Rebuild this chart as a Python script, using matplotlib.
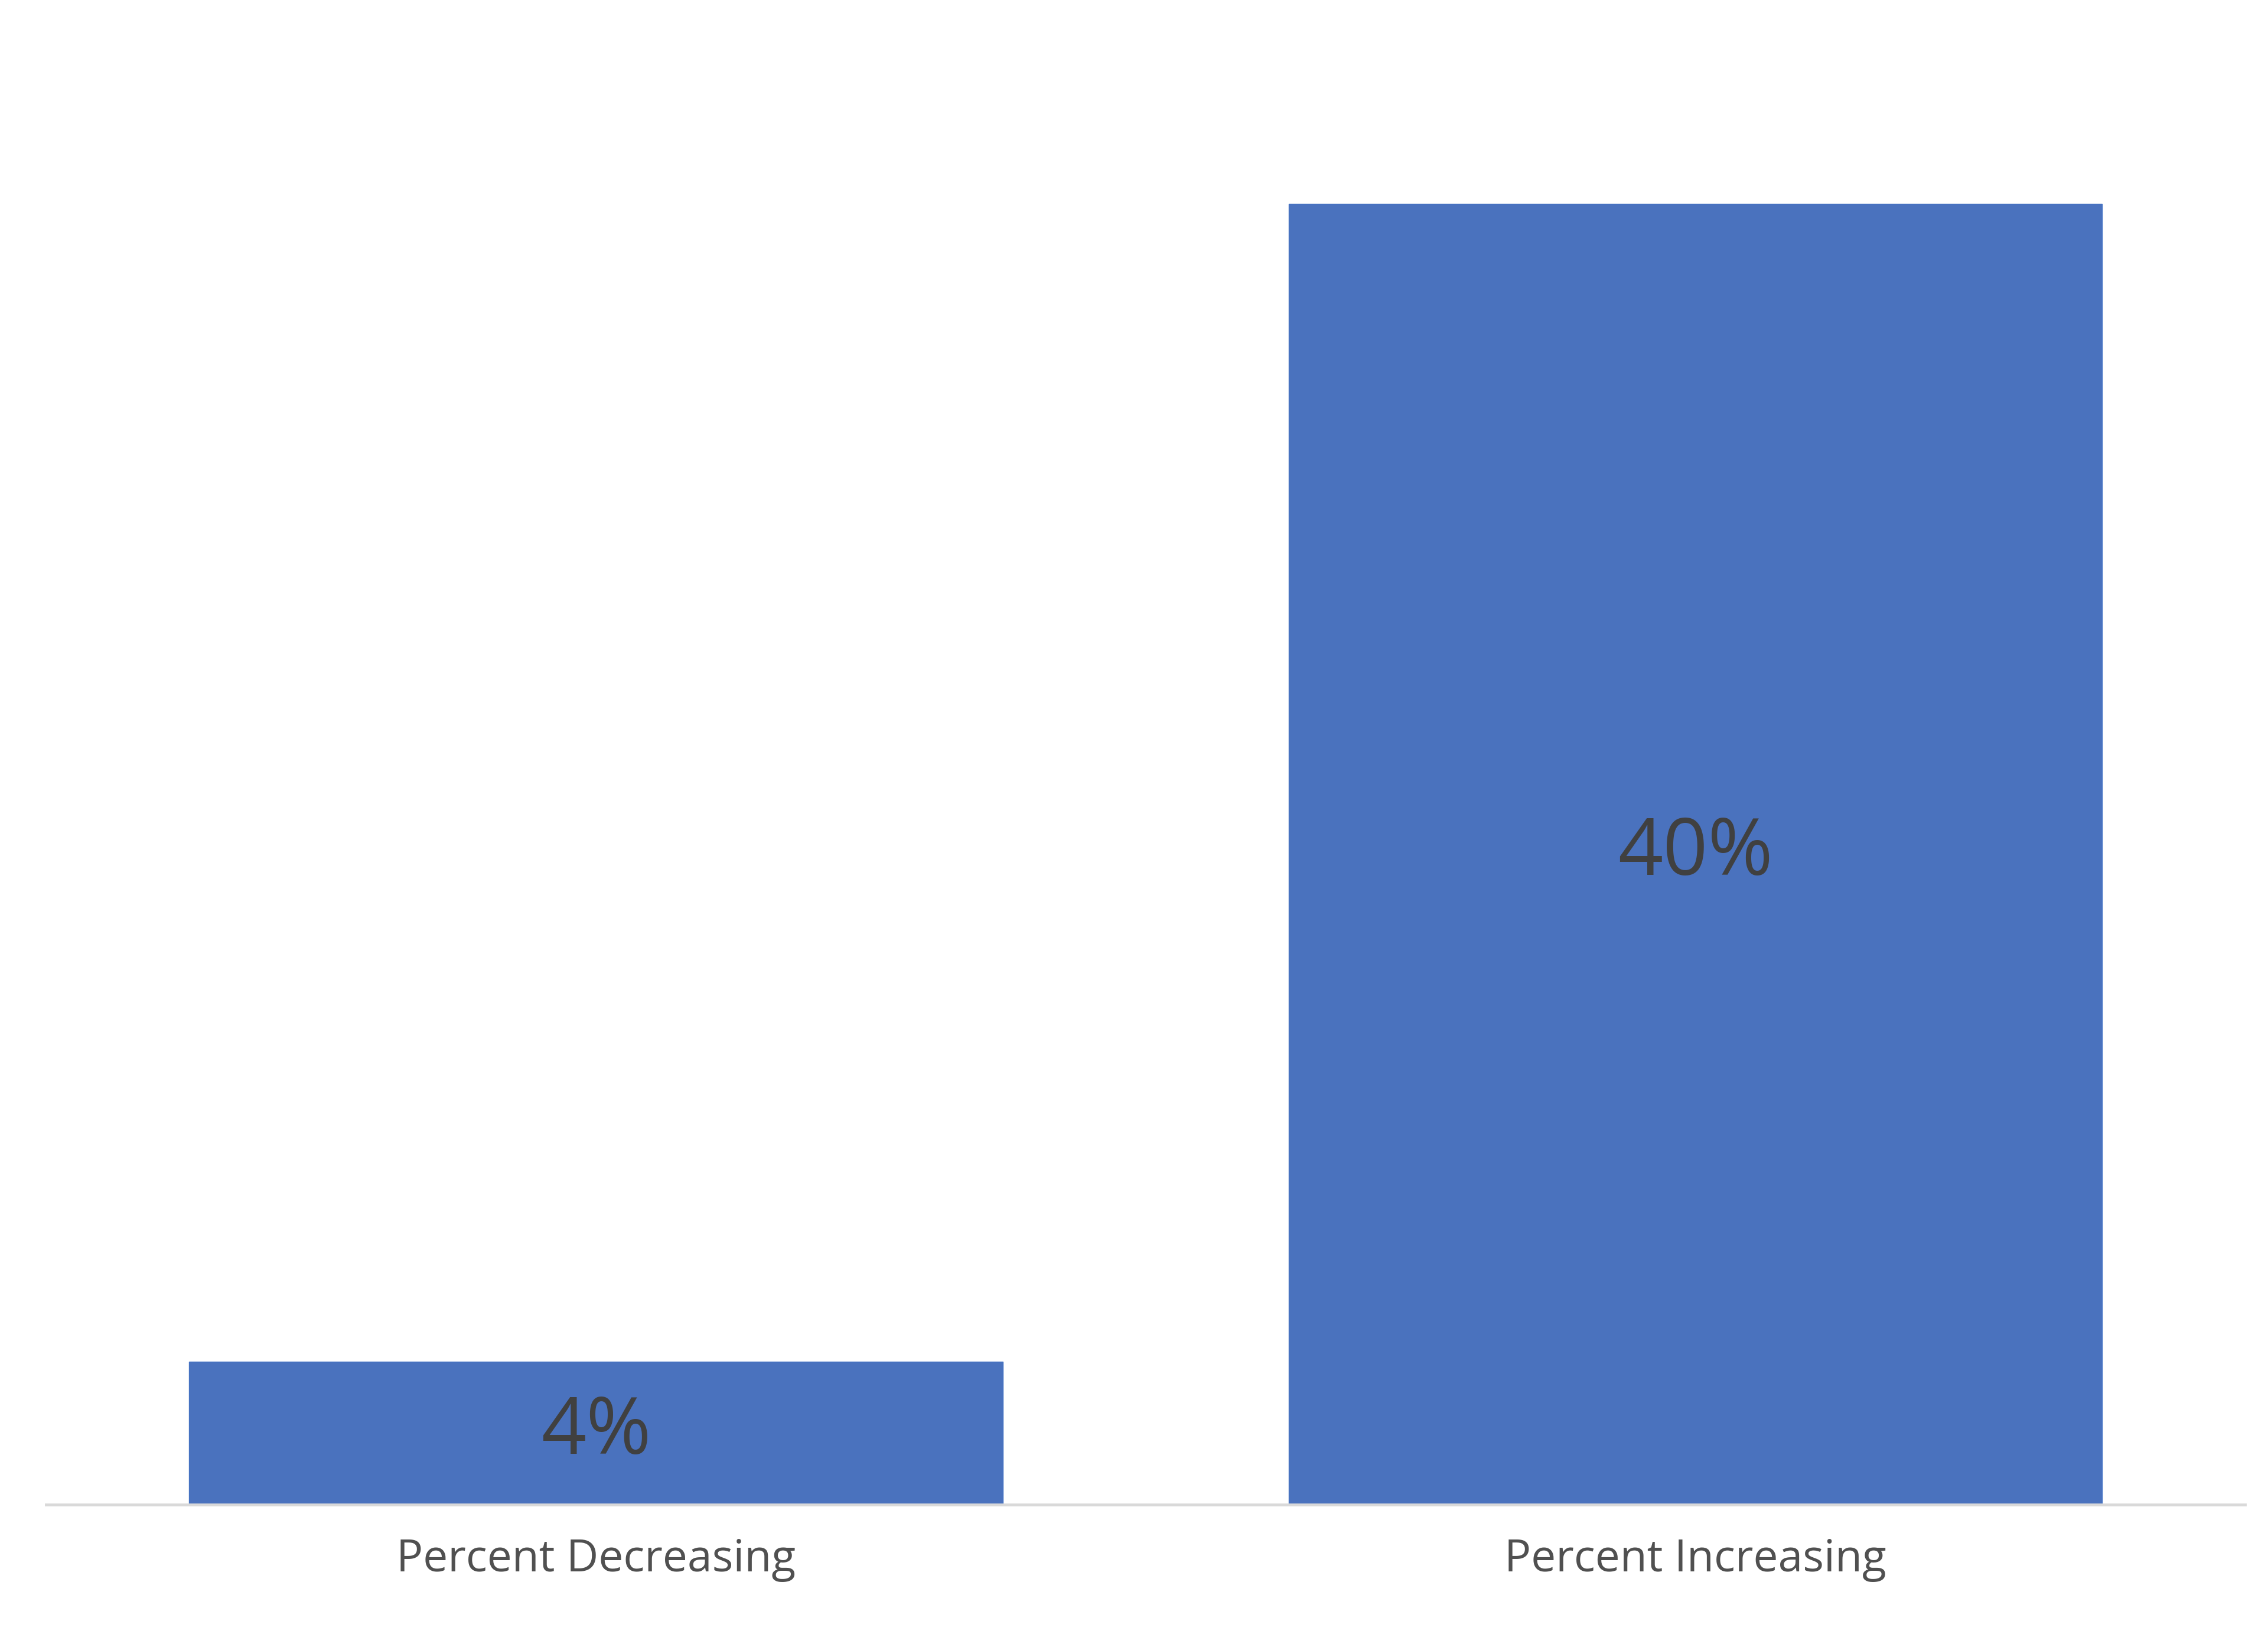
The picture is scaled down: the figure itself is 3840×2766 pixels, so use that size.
import matplotlib
matplotlib.use("Agg")
import matplotlib.pyplot as plt

categories = ["Percent Decreasing", "Percent Increasing"]
values = [4.4, 40.0]
labels = ["4%", "40%"]

plt.rcParams['font.family'] = ['Open Sans', 'DejaVu Sans']
fig = plt.figure(figsize=(38.4, 27.66), dpi=100)
ax = fig.add_axes([0.0204, 0.079, 0.9694, 0.921])
x = range(len(categories))
bars = ax.bar(x, values, width=0.74, color="#4A72BE", edgecolor="#4472C4", linewidth=1)
for b, lab in zip(bars, labels):
    ax.text(b.get_x() + b.get_width() / 2, b.get_height() / 2, lab,
            ha="center", va="center", fontsize=96, color="#404040")
ax.set_xlim(-0.5, 1.5)
ax.set_ylim(0, 46.27)
ax.set_xticks(list(x))
ax.set_xticklabels(categories, fontsize=54, color="#505050")
ax.tick_params(axis="x", length=0, pad=40)
ax.set_yticks([])
for s in ["top", "right", "left"]:
    ax.spines[s].set_visible(False)
ax.spines["bottom"].set_color("#D9D9D9")
ax.spines["bottom"].set_linewidth(3.5)
fig.savefig("out.png", dpi=100, facecolor="white")
